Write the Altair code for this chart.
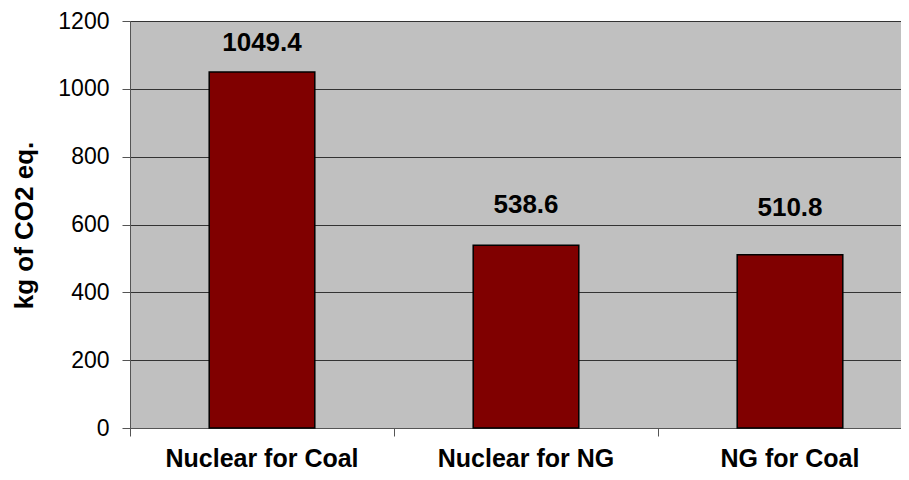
import altair as alt
import pandas as pd

categories = ["Nuclear for Coal", "Nuclear for NG", "NG for Coal"]
values = [1049.4, 538.6, 510.8]
labels = ["1049.4", "538.6", "510.8"]

df = pd.DataFrame({"cat": categories, "val": values, "lab": labels})

FONT = "Liberation Sans"

x_enc = alt.X(
    "cat:N",
    sort=categories,
    scale=alt.Scale(range=[0, 792], paddingInner=0, paddingOuter=0),
    axis=alt.Axis(
        title=None,
        bandPosition=0,
        labelOffset=0,
        labelAngle=0,
        labelFont=FONT,
        labelFontSize=25,
        labelFontWeight="bold",
        labelColor="black",
        labelPadding=30,
        labelBaseline="alphabetic",
        labelLimit=0,
        tickSize=8,
        tickColor="#555555",
        domainColor="#555555",
        grid=False,
    ),
)

y_enc = alt.Y(
    "val:Q",
    scale=alt.Scale(domain=[0, 1200], nice=False),
    axis=alt.Axis(
        title="kg of CO2 eq.",
        titleFont=FONT,
        titleFontSize=26,
        titleFontWeight="bold",
        titleColor="black",
        titleX=-106,
        titleY=204,
        titleAngle=270,
        titleAlign="center",
        titleBaseline="middle",
        values=[0, 200, 400, 600, 800, 1000, 1200],
        format="d",
        labelFont=FONT,
        labelFontSize=23,
        labelColor="black",
        labelPadding=13,
        tickSize=8,
        tickColor="#555555",
        domainColor="#555555",
        grid=True,
        gridColor="#333333",
        gridWidth=1,
    ),
)

bars = alt.Chart(df).mark_bar(
    color="#800000", stroke="black", strokeWidth=1.5, width=alt.RelativeBandSize(0.4)
).encode(x=x_enc, y=y_enc)

offsets = [-29, -40, -47]
texts = [
    alt.Chart(df).transform_filter(alt.datum.cat == c).mark_text(
        font=FONT, fontSize=26, fontWeight="bold", color="black", dy=d, baseline="middle"
    ).encode(x=alt.X("cat:N", sort=categories), y=alt.Y("val:Q"), text="lab:N")
    for c, d in zip(categories, offsets)
]

chart = alt.layer(bars, *texts).properties(
    width=771,
    height=407,
    autosize=alt.AutoSizeParams(type="none"),
    padding={"left": 122, "top": 13, "right": 0, "bottom": 44},
).configure_view(fill="#C0C0C0", stroke="#808080", strokeWidth=1)

chart.save("out.html", embed_options={"renderer": "svg", "actions": False})
